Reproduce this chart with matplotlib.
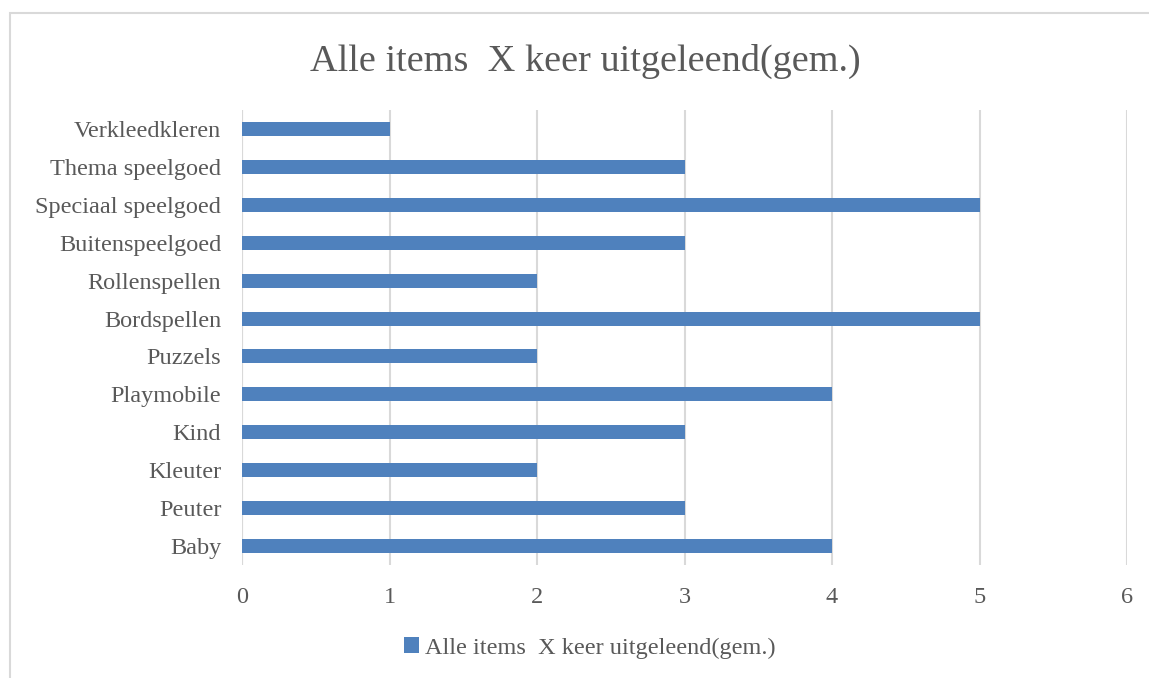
import matplotlib.pyplot as plt
from matplotlib.patches import Rectangle

# Daten
categories = ["Baby", "Peuter", "Kleuter", "Kind", "Playmobile", "Puzzels",
              "Bordspellen", "Rollenspellen", "Buitenspeelgoed",
              "Speciaal speelgoed", "Thema speelgoed", "Verkleedkleren"]
values = [4, 3, 2, 3, 4, 2, 5, 2, 3, 5, 3, 1]
series_name = "Alle items  X keer uitgeleend(gem.)"
x_ticks = [0, 1, 2, 3, 4, 5, 6]

text_color = "#595959"
bar_color = "#4f81bd"
grid_color = "#d9d9d9"
font = "Liberation Serif"

W, H = 1149, 678
fig = plt.figure(figsize=(W / 100, H / 100), dpi=100)

# Rahmen um das Diagramm
fig.patches.append(Rectangle((10 / W, -0.1), 1.2, 1.1 - 13 / H, transform=fig.transFigure,
                             fill=False, edgecolor=grid_color, linewidth=1.5))

ax = fig.add_axes([242 / W, 1 - 565 / H, (1127 - 242) / W, (565 - 110) / H])
ax.barh(range(len(categories)), values, height=0.37, color=bar_color,
        label=series_name, zorder=3)

ax.set_xlim(0, 6)
ax.set_ylim(-0.5, len(categories) - 0.5)
ax.set_xticks(x_ticks)
ax.set_yticks(range(len(categories)))
ax.set_yticklabels(categories)
ax.grid(axis="x", color=grid_color, linewidth=1.5, zorder=0)
for s in ax.spines.values():
    s.set_visible(False)
ax.axvline(0, color=grid_color, linewidth=1.5, zorder=1)
ax.tick_params(length=0, labelsize=17.5, labelcolor=text_color, pad=15)
ax.tick_params(axis="x", pad=16)
for lbl in ax.get_xticklabels() + ax.get_yticklabels():
    lbl.set_fontfamily(font)

fig.text(585 / W, 1 - 61 / H, "Alle items  X keer uitgeleend(gem.)", ha="center", va="center",
         fontsize=27.5, color=text_color, fontfamily=font)

leg = fig.legend(loc="center", bbox_to_anchor=(590 / W, 1 - 648 / H), frameon=False,
                 prop={"family": font, "size": 17.5}, handlelength=0.6, handleheight=0.6,
                 handletextpad=0.25)
for t in leg.get_texts():
    t.set_color(text_color)

fig.savefig("out.png", dpi=100)
